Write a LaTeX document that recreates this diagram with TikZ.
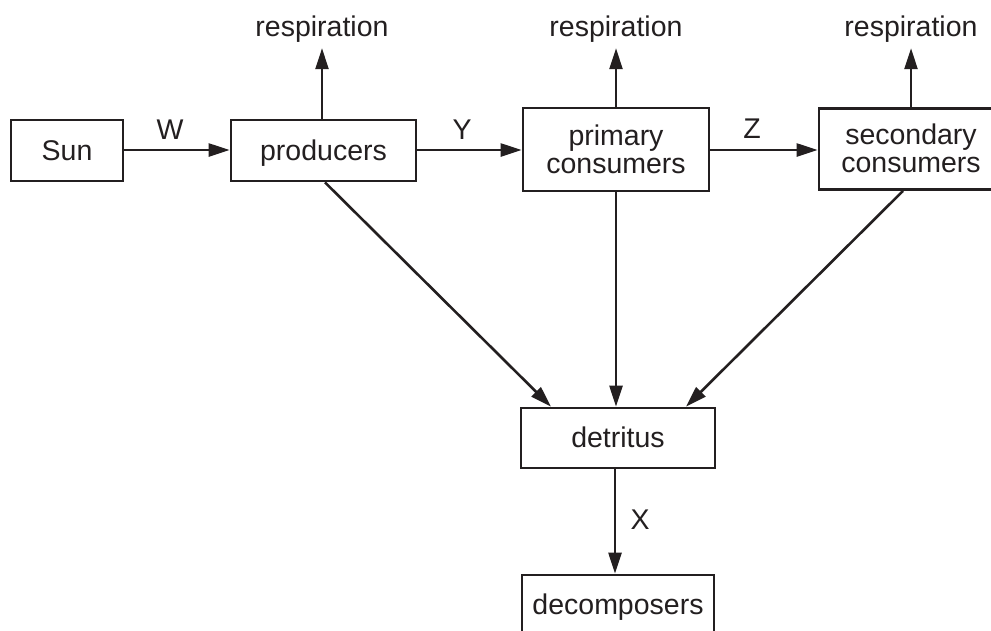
\documentclass[tikz,border=0pt]{standalone}
\usepackage{fontspec}
\setmainfont{Liberation Sans}
\usetikzlibrary{arrows.meta,calc}
\definecolor{ink}{HTML}{231F20}
\begin{document}
\begin{tikzpicture}[x=1pt,y=-1pt,
  every node/.style={font=\fontsize{28.5}{28}\selectfont, text=ink},
  box/.style={draw=ink, line width=2.8pt, inner sep=0pt, minimum height=61pt,
              text height=19.5pt, text depth=0pt, align=center},
  twoline/.style={text height=47.5pt},
  lbl/.style={inner sep=0pt, anchor=base},
  resp/.style={inner sep=0pt, text height=19.5pt, text depth=12pt, anchor=base},
  flow/.style={draw=ink, line width=2.6pt, -{Triangle[length=21pt,width=13pt]}},
  plain/.style={draw=ink, line width=2.6pt}]
\clip (0,0) rectangle (991,630);
\fill[white] (0,0) rectangle (991,630);
% boxes
\node[box, minimum width=112pt] (sun) at (67,150.5) {Sun};
\node[box, minimum width=185pt] (prod) at (323.5,150.5) {producers};
\node[box, twoline, minimum width=186pt, minimum height=83pt] (prim) at (616,149.5) {primary\\consumers};
\node[box, twoline, minimum width=184pt, minimum height=81pt] (sec) at (911,149) {secondary\\consumers};
\node[box, minimum width=194pt, minimum height=60pt] (det) at (618,438) {detritus};
\node[box, minimum width=192pt, minimum height=60pt] (dec) at (618,605) {decomposers};
% respiration labels
\node[resp] (r1) at (322,36) {respiration};
\node[resp] (r2) at (616,36) {respiration};
\node[resp] (r3) at (911,36) {respiration};
% flow labels
\node[lbl] (w) at (170,139) {W};
\node[lbl] (y) at (462,139) {Y};
\node[lbl] (z) at (752,138) {Z};
\node[lbl] (xl) at (640,529) {X};
% horizontal flows
\draw[flow] (sun.east |- 0,150) -- (prod.west |- 0,150);
\draw[flow] (prod.east |- 0,150) -- (prim.west |- 0,150);
\draw[flow] (prim.east |- 0,150) -- (sec.west |- 0,150);
% respiration
\draw[flow] (prod.north -| r1.south) -- (r1.south);
\draw[flow] (prim.north -| r2.south) -- (r2.south);
\draw[flow] (sec.north -| r3.south) -- (r3.south);
% to detritus
\draw[flow] ($(prod.south)+(1.5,0)$) -- ($(det.north)+(-67,0)$);
\draw[flow] (prim.south) -- (prim.south |- det.north);
\draw[flow] ($(sec.south)+(-8,0)$) -- ($(det.north)+(68,0)$);
% to decomposers
\draw[flow] (det.south -| 615,0) -- (dec.north -| 615,0);
\end{tikzpicture}
\end{document}
